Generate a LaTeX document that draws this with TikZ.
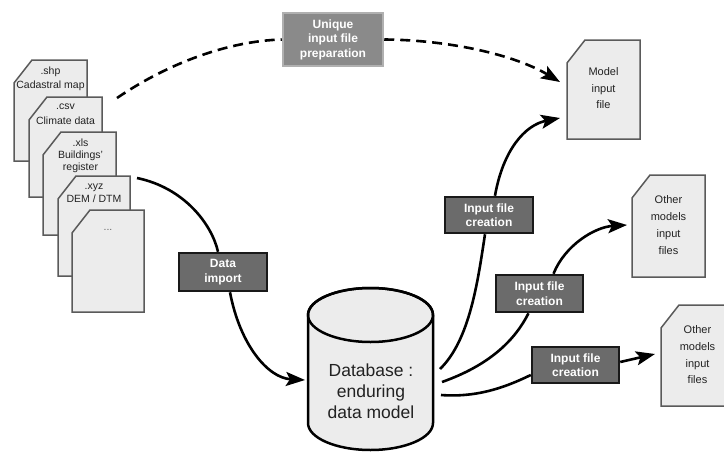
\documentclass[tikz,border=0pt]{standalone}
\usepackage{fontspec}
\setmainfont{Liberation Sans}
\usetikzlibrary{arrows.meta,calc}
\definecolor{docfill}{HTML}{ECECEC}
\definecolor{docedge}{HTML}{5A5A5A}
\definecolor{darkbox}{HTML}{6B6B6B}
\definecolor{midbox}{HTML}{8A8A8A}
\definecolor{midedge}{HTML}{B0B0B0}
\definecolor{txt}{HTML}{222222}
\newcommand\mydoc[5]{%
  \node[docbox, minimum width=#4, minimum height=#5] (#1) at ({#2+#4/2},{#3+#5/2}) {};
  \draw[docline] ($(#1.north west)+(18,0)$) -- (#1.north east) -- (#1.south east) -- (#1.south west) -- ($(#1.north west)+(0,23)$) -- cycle;
}
\begin{document}
\begin{tikzpicture}[x=1pt,y=-1pt,
  docbox/.style={inner sep=0pt, outer sep=0pt, draw=none},
  docline/.style={draw=docedge, fill=docfill, line width=1.5pt, line join=miter},
  doctext/.style={text=txt, align=center, inner sep=0pt},
  procbox/.style={fill=darkbox, draw=black!90, line width=2.5pt, text=white, font=\bfseries\fontsize{12}{14.5}\selectfont, align=center, inner sep=0pt},
  prepbox/.style={fill=midbox, draw=midedge, line width=2.5pt, text=white, font=\bfseries\fontsize{12}{14.5}\selectfont, align=center, inner sep=0pt},
  conn/.style={line width=2.6pt, black},
  tip/.style={-{Stealth[length=19pt,width=14pt,inset=4pt]}},
  dashconn/.style={conn, dash pattern=on 10pt off 6pt}
]
\useasboundingbox (0,0) rectangle (724,453);
\clip (0,0) rectangle (724,453);

% source documents
\mydoc{d1}{14}{60}{73}{101}
\node[doctext, font=\fontsize{10.5}{14}\selectfont] (t1) at (50.5,79) {.shp\\Cadastral map};
\mydoc{d2}{29}{97}{73}{100}
\node[doctext, font=\fontsize{10.5}{15}\selectfont] (t2) at (65.5,114.5) {.csv\\Climate data};
\mydoc{d3}{43}{132}{73}{103}
\node[doctext, font=\fontsize{10.5}{12}\selectfont] (t3) at (80.5,156) {.xls\\Buildings'\\register};
\mydoc{d4}{58}{176}{72}{100}
\node[doctext, font=\fontsize{10.5}{13}\selectfont] (t4) at (94,193.5) {.xyz\\DEM / DTM};
\mydoc{d5}{72}{210}{72}{102}
\node[doctext, font=\fontsize{10.5}{13}\selectfont, text=black!60] (t5) at (108,230) {...};

% output documents
\mydoc{mif}{567}{40}{73}{99}
\node[doctext, font=\fontsize{11}{16.5}\selectfont] (tm) at (603.5,88.5) {Model\\input\\file};
\mydoc{om1}{632}{175}{73}{102}
\node[doctext, font=\fontsize{11}{17}\selectfont] (to1) at (668.5,225.5) {Other\\models\\input\\files};
\mydoc{om2}{661}{305}{73}{101}
\node[doctext, font=\fontsize{11}{16.7}\selectfont] (to2) at (697.5,355) {Other\\models\\input\\files};

% database cylinder
\node[docbox, minimum width=125, minimum height=162] (db) at (370.5,369) {};
\draw[line width=2.5pt, fill=docfill]
  (308,315) -- (308,423) arc[start angle=180, end angle=0, x radius=62.5, y radius=27]
  -- (433,315) arc[start angle=0, end angle=-180, x radius=62.5, y radius=27] -- cycle;
\draw[line width=2.5pt] (370.5,315) ellipse [x radius=62.5, y radius=27];
\node[doctext, font=\fontsize{17.5}{21}\selectfont] (dbt) at (371,391) {Database :\\enduring\\data model};

% process boxes
\node[prepbox, minimum width=100, minimum height=53] (prep) at (333,39.5) {Unique\\input file\\preparation};
\node[procbox, minimum width=88, minimum height=38] (imp) at (223,272) {Data\\import};
\node[procbox, minimum width=88, minimum height=36] (c1) at (489,215) {Input file\\creation};
\node[procbox, minimum width=87, minimum height=37] (c2) at (539.5,293.5) {Input file\\creation};
\node[procbox, minimum width=87, minimum height=36] (c3) at (575.5,365) {Input file\\creation};

% dashed route
\draw[dashconn] ([xshift=15pt,yshift=-1pt]d2.north east) .. controls (170,62) and (230,41) .. (prep.west);
\draw[dashconn, tip] (prep.east) .. controls (450,40) and (515,55) .. ([xshift=-7pt,yshift=7.5pt]mif.west);

% data import
\draw[conn] ([xshift=7pt,yshift=-2pt]d4.north east) .. controls (185,188) and (212,225) .. ([xshift=-5pt]imp.north);
\draw[conn, tip] ([xshift=7pt]imp.south) .. controls (240,345) and (268,378) .. ([xshift=-3pt,yshift=-11pt]db.west);

% input file creation
\draw[conn] ([xshift=7pt,yshift=0pt]db.east) .. controls (470,340) and (478,280) .. ([xshift=-4pt]c1.south);
\draw[conn, tip] ([xshift=6pt]c1.north) .. controls (503,150) and (525,125) .. ([xshift=-7pt,yshift=-28.5pt]mif.west);
\draw[conn] ([xshift=9pt,yshift=-13pt]db.east) .. controls (490,365) and (515,340) .. ([xshift=-11pt]c2.south);
\draw[conn, tip] ([xshift=14pt]c2.north) .. controls (565,245) and (595,227) .. ([xshift=-5pt,yshift=1pt]om1.west);
\draw[conn] ([xshift=8pt,yshift=-26pt]db.east) .. controls (480,398) and (510,385) .. ([yshift=-10pt]c3.west);
\draw[conn, tip] ([yshift=3pt]c3.east) -- ([xshift=-6pt,yshift=1.5pt]om2.west);
\end{tikzpicture}
\end{document}
